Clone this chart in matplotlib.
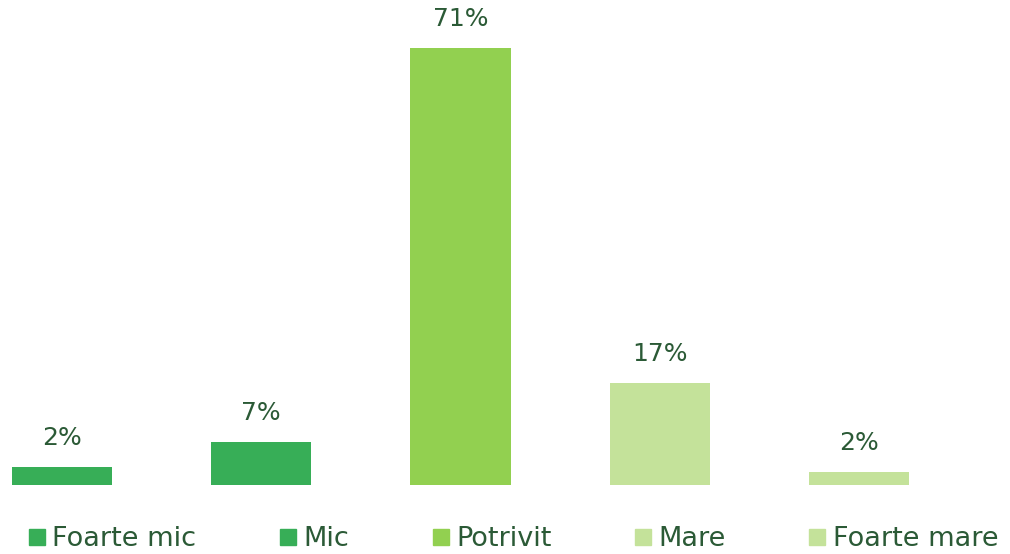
import matplotlib
matplotlib.use("Agg")
import matplotlib.pyplot as plt
from matplotlib.lines import Line2D

# data
categories = ["Foarte mic", "Mic", "Potrivit", "Mare", "Foarte mare"]
values = [2.9, 7.0, 71.0, 16.6, 2.1]
value_labels = ["2%", "7%", "71%", "17%", "2%"]
colors = ["#37AE57", "#37AE57", "#92D050", "#C4E29A", "#C4E29A"]

text_color = "#2B5A36"
plt.rcParams["font.family"] = ["DejaVu Sans"]

fig = plt.figure(figsize=(10.10, 5.54), dpi=100)
ax = fig.add_axes([0, (554 - 485) / 554, 1, 485 / 554])

x = list(range(len(categories)))
bars = ax.bar(x, values, width=0.502, color=colors)

for b, lab in zip(bars, value_labels):
    ax.annotate(lab, (b.get_x() + b.get_width() / 2, b.get_height()),
                xytext=(0, 12), textcoords="offset points",
                ha="center", va="bottom", fontsize=18, color=text_color)

ax.set_xlim(-62 / 199.25, (1010 - 62) / 199.25)
ax.set_ylim(0, 71 * 485 / 437)
ax.axis("off")

handles = [Line2D([], [], marker="s", linestyle="none", markersize=11.5,
                  markerfacecolor=c, markeredgecolor=c) for c in colors]
leg = fig.legend(handles, categories, loc="center", ncol=5,
                 bbox_to_anchor=(514 / 1010, 1 - 539 / 554), frameon=False,
                 fontsize=19.5, handlelength=0.55, handletextpad=0.3,
                 columnspacing=3.1, borderaxespad=0, borderpad=0)
for t in leg.get_texts():
    t.set_color(text_color)

fig.savefig("out.png", dpi=100)
